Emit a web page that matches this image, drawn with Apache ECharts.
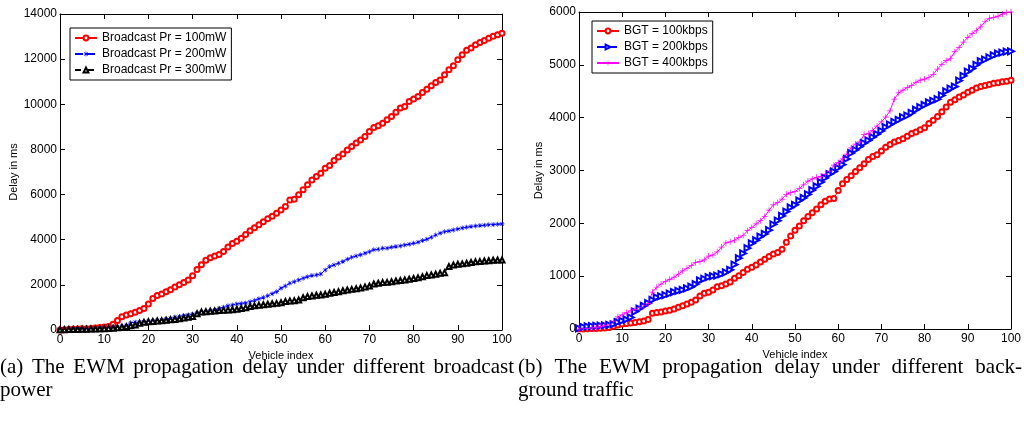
<!DOCTYPE html>
<html lang="en">
<head>
    <meta charset="UTF-8">
    <title>EWM propagation delay</title>
    <script src="https://cdn.jsdelivr.net/npm/echarts@6/dist/echarts.min.js"></script>
    <style>
        body{
            margin: 0;
            background: #fff;
        }
        #chart{
            width: 1024px;
            height: 424px;
        }
    </style>
</head>
<body>
    <div id="chart"></div>
    <script>
        // vehicle index 0..100 on both panels
        var vehicles = [];
        for (var i = 0; i <= 100; i++) vehicles.push(i);

        // (a) broadcast power
        var pr100 = [0,10,20,30,40,50,60,70,90,110,130,
            160,250,420,590,670,720,790,860,950,1150,
            1400,1530,1600,1690,1780,1900,2000,2100,2220,2400,
            2680,2890,3090,3200,3280,3340,3480,3680,3830,3930,
            4060,4230,4400,4530,4660,4800,4930,5040,5170,5320,
            5470,5760,5790,5990,6210,6430,6650,6800,6950,7170,
            7290,7510,7660,7800,7980,8130,8280,8420,8570,8790,
            8970,9050,9160,9310,9460,9650,9830,9900,10120,10230,
            10350,10520,10670,10820,10970,11080,11310,11530,11710,11970,
            12190,12390,12490,12640,12740,12830,12930,13010,13080,13150];
        var pr200 = [20,30,30,40,40,50,60,60,70,80,90,
            100,110,120,150,200,320,340,350,360,380,
            400,420,440,480,520,560,600,640,670,710,
            740,770,810,850,890,950,1010,1070,1110,1150,
            1170,1200,1250,1310,1380,1440,1520,1610,1700,1850,
            1950,2070,2140,2220,2290,2360,2410,2440,2480,2660,
            2810,2880,2960,3030,3130,3220,3280,3330,3400,3470,
            3550,3580,3620,3620,3670,3700,3720,3770,3800,3840,
            3890,3960,4020,4110,4210,4290,4350,4390,4430,4480,
            4520,4550,4580,4610,4630,4640,4660,4670,4690,4700];
        var pr300 = [10,10,20,20,20,30,30,40,40,50,60,
            70,80,100,120,150,190,220,300,340,370,
            380,400,410,430,450,470,500,530,560,600,
            720,800,810,830,840,860,880,890,900,920,
            950,990,1040,1070,1100,1120,1140,1160,1180,1210,
            1260,1290,1300,1330,1430,1480,1510,1540,1550,1580,
            1630,1660,1700,1740,1770,1800,1830,1860,1910,1950,
            2040,2070,2100,2110,2140,2170,2190,2220,2250,2280,
            2310,2360,2410,2440,2470,2510,2540,2810,2880,2910,
            2930,2960,2990,3020,3030,3060,3070,3090,3100,3100];

        // (b) background traffic
        var bgt100 = [0,0,5,10,10,15,20,30,50,75,95,
            105,115,125,135,150,180,300,310,320,340,
            355,380,410,440,475,505,550,625,676,695,
            740,800,820,850,890,960,1010,1070,1130,1170,
            1210,1270,1320,1370,1420,1450,1510,1640,1760,1870,
            1950,2050,2130,2200,2270,2350,2420,2460,2470,2620,
            2750,2830,2900,2980,3050,3130,3210,3265,3300,3370,
            3440,3490,3540,3570,3600,3650,3700,3730,3770,3810,
            3890,3950,4020,4110,4200,4290,4340,4390,4430,4480,
            4520,4560,4590,4610,4630,4650,4660,4680,4690,4710];
        var bgt200 = [10,40,50,55,60,65,70,80,90,130,155,
            180,220,330,385,440,490,550,600,620,640,
            670,700,720,740,770,800,850,920,950,980,
            1000,1010,1040,1070,1120,1220,1340,1430,1530,1620,
            1680,1750,1800,1870,1980,2050,2140,2220,2300,2350,
            2430,2480,2550,2630,2700,2780,2860,2930,2980,3050,
            3110,3220,3330,3390,3450,3520,3570,3630,3690,3750,
            3820,3870,3920,3960,4010,4040,4090,4150,4200,4240,
            4290,4320,4350,4420,4500,4550,4590,4700,4790,4870,
            4930,5000,5070,5100,5140,5180,5210,5230,5250,5255];
        var bgt400 = [0,5,10,20,30,50,70,90,150,230,270,
            310,350,370,400,440,480,700,790,850,900,
            940,980,1040,1100,1150,1200,1260,1275,1310,1380,
            1400,1460,1550,1630,1650,1680,1730,1770,1860,1920,
            1990,2050,2130,2250,2350,2390,2460,2550,2580,2600,
            2660,2730,2800,2840,2870,2890,2930,2990,3100,3150,
            3220,3310,3430,3500,3540,3680,3700,3760,3840,3920,
            4010,4130,4350,4470,4520,4570,4610,4670,4710,4730,
            4760,4820,4920,5010,5080,5120,5250,5330,5430,5520,
            5590,5650,5720,5820,5880,5900,5920,5960,5990,6000];

        var xTicks = [0, 100, 10];
        var yTicksA = [0, 14000, 2000];
        var yTicksB = [0, 6000, 1000];

        var captionA = ['(a) The EWM propagation delay under different broadcast', 'power'];
        var captionB = ['(b) The EWM propagation delay under different back-', 'ground traffic'];

        var SANS = 'Liberation Sans, Arial, sans-serif';
        var SERIF = 'Liberation Serif, Times New Roman, serif';
        var CAP_SIZE = 21;

        var plusPath = 'path://M4.4,0h1.2v4.4h4.4v1.2h-4.4v4.4h-1.2v-4.4h-4.4v-1.2h4.4z';
        var starPath = 'path://M4.4,0h1.2v10h-1.2z M0,4.4h10v1.2h-10z M1,1.8L1.8,1L9,8.2L8.2,9z M1,8.2L8.2,1L9,1.8L1.8,9z';

        function pairs(vals){
            return vals.map(function(v, k){ return [vehicles[k], v]; });
        }
        function plain(v){ return String(v); }

        function xAx(grid, bottom){
            return {
                gridIndex: grid, type: 'value', position: bottom ? 'bottom' : 'top',
                min: xTicks[0], max: xTicks[1], interval: xTicks[2],
                name: bottom ? 'Vehicle index' : '', nameLocation: 'middle', nameGap: 15,
                nameTextStyle: {color: '#000', fontFamily: SANS, fontSize: 11},
                axisLine: {onZero: false, lineStyle: {color: '#000', width: 1}},
                axisTick: {inside: true, length: 5, lineStyle: {color: '#000'}},
                axisLabel: {show: bottom, color: '#000', fontFamily: SANS, fontSize: 12, margin: 4, formatter: plain},
                splitLine: {show: false}
            };
        }
        function yAx(grid, left, t, gap){
            return {
                gridIndex: grid, type: 'value', position: left ? 'left' : 'right',
                min: t[0], max: t[1], interval: t[2],
                name: left ? 'Delay in ms' : '', nameLocation: 'middle', nameGap: gap,
                nameTextStyle: {color: '#000', fontFamily: SANS, fontSize: 11},
                axisLine: {show: true, onZero: false, lineStyle: {color: '#000', width: 1}},
                axisTick: {show: true, inside: true, length: 5, lineStyle: {color: '#000'}},
                axisLabel: {show: left, color: '#000', fontFamily: SANS, fontSize: 12, margin: 3, formatter: plain},
                splitLine: {show: false}
            };
        }
        function line(name, vals, axis, color, dash, symbol, size, rotate){
            var empty = symbol.indexOf('empty') === 0;
            return {
                name: name, type: 'line', xAxisIndex: axis, yAxisIndex: axis,
                data: pairs(vals), symbol: symbol, symbolSize: size, symbolRotate: rotate || 0,
                showAllSymbol: true,
                lineStyle: {color: color, width: 1, type: dash},
                itemStyle: empty ? {color: color, borderWidth: 0.8} : {color: color, borderWidth: 0},
                emphasis: {disabled: true}
            };
        }

        // justified caption lines, like the LaTeX subcaption
        var measure = document.createElement('canvas').getContext('2d');
        measure.font = CAP_SIZE + 'px ' + SERIF;
        function captionLine(text, x, y, width, justify){
            var words = text.split(' ');
            var widths = words.map(function(w){ return measure.measureText(w).width; });
            var total = widths.reduce(function(a, b){ return a + b; }, 0);
            var gap = justify ? (width - total) / (words.length - 1) : measure.measureText(' ').width;
            var out = [], cx = x;
            words.forEach(function(w, k){
                out.push({type: 'text', x: cx, y: y, silent: true,
                    style: {text: w, fill: '#000', fontSize: CAP_SIZE, fontFamily: SERIF,
                        verticalAlign: 'middle', textVerticalAlign: 'middle'}});
                cx += widths[k] + gap;
            });
            return out;
        }
        var captions = [].concat(
            captionLine(captionA[0], 0, 367, 514, true),
            captionLine(captionA[1], 0, 390, 514, false),
            captionLine(captionB[0], 518, 367, 504, true),
            captionLine(captionB[1], 518, 390, 504, false)
        );

        var legendBase = {
            orient: 'vertical', backgroundColor: '#fff', borderColor: '#000', borderWidth: 1,
            padding: [4, 5, 4, 4], itemWidth: 22, itemHeight: 6, itemGap: 4,
            textStyle: {color: '#000', fontFamily: SANS, fontSize: 12}
        };

        var myChart = echarts.init(document.getElementById('chart'));
        var option = {
            animation: false,
            backgroundColor: '#fff',
            grid: [
                {left: 60, right: 522, top: 14, bottom: 94},
                {left: 579, right: 12, top: 12, bottom: 95}
            ],
            xAxis: [xAx(0, true), xAx(0, false), xAx(1, true), xAx(1, false)],
            yAxis: [yAx(0, true, yTicksA, 37), yAx(0, false, yTicksA, 0), yAx(1, true, yTicksB, 35), yAx(1, false, yTicksB, 0)],
            legend: [
                Object.assign({}, legendBase, {left: 70, top: 28,
                    data: ['Broadcast Pr = 100mW', 'Broadcast Pr = 200mW', 'Broadcast Pr = 300mW']}),
                Object.assign({}, legendBase, {left: 592, top: 21,
                    data: ['BGT = 100kbps', 'BGT = 200kbps', 'BGT = 400kbps']})
            ],
            series: [
                line('Broadcast Pr = 100mW', pr100, 0, '#ff0000', 'solid', 'emptyCircle', 5),
                line('Broadcast Pr = 200mW', pr200, 0, '#0000ff', 'dashed', starPath, 5),
                line('Broadcast Pr = 300mW', pr300, 0, '#000000', [6, 3, 1, 3], 'emptyTriangle', 5),
                line('BGT = 100kbps', bgt100, 2, '#ff0000', 'solid', 'emptyCircle', 5),
                line('BGT = 200kbps', bgt200, 2, '#0000ff', 'dashed', 'emptyTriangle', 6, -90),
                line('BGT = 400kbps', bgt400, 2, '#ff00ff', 'solid', plusPath, 6)
            ],
            graphic: captions
        };
        myChart.setOption(option);
    </script>
</body>
</html>
